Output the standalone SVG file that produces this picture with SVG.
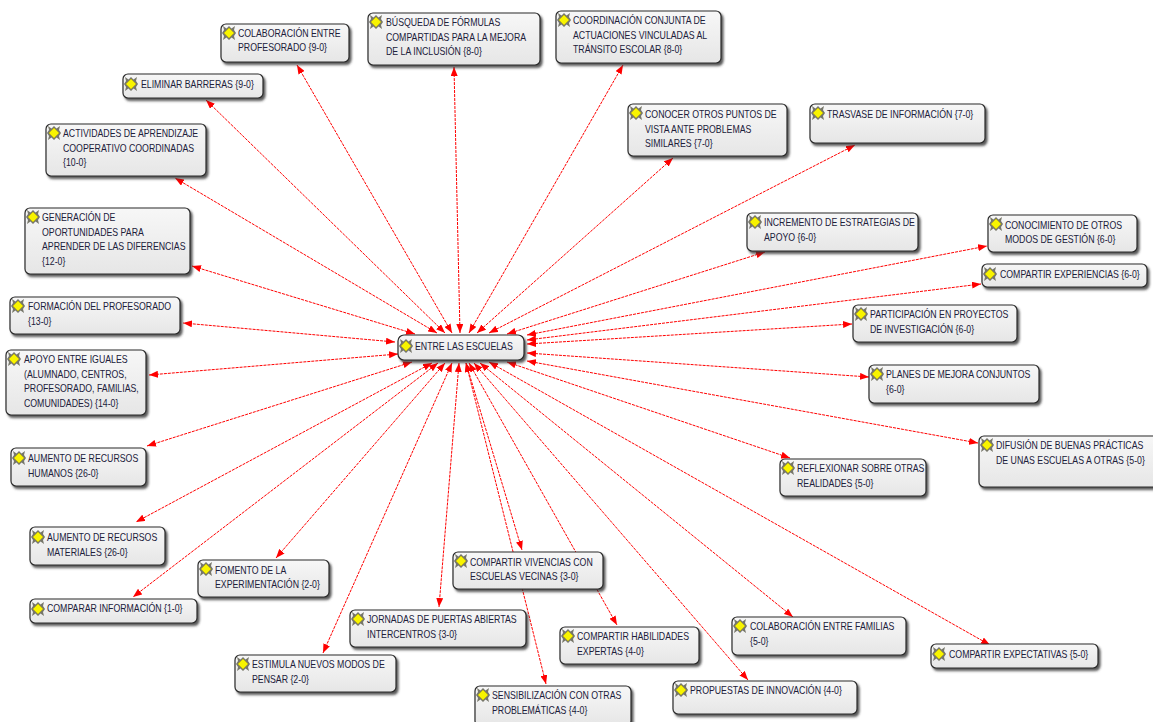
<svg xmlns="http://www.w3.org/2000/svg" width="1153" height="722" viewBox="0 0 1153 722">
<style>
.bg{fill:#fff}
.box{fill:url(#bf);stroke:#2a2a2a;stroke-width:1.2;filter:url(#sh)}
.c{stroke:#f00;stroke-width:1;stroke-dasharray:3 1;fill:none;marker-start:url(#ah);marker-end:url(#ah)}
text{font-family:"Liberation Sans",Arial,sans-serif;font-size:10.5px;fill:#20203a;transform-box:fill-box;transform-origin:0 50%;transform:scaleX(.835)}
</style>
<defs>
<linearGradient id="bf" x1="0" y1="0" x2="0" y2="1"><stop offset="0" stop-color="#f7f7f7"/><stop offset="1" stop-color="#e6e6e6"/></linearGradient>
<filter id="sh" x="-10%" y="-20%" width="125%" height="150%"><feDropShadow dx="2" dy="2.5" stdDeviation="1" flood-color="#333" flood-opacity=".8"/></filter>
<marker id="ah" viewBox="0 0 9 7" refX="9" refY="3.5" markerUnits="userSpaceOnUse" markerWidth="9" markerHeight="7" orient="auto-start-reverse"><path d="M0 0L9 3.5L0 7z" fill="#f00"/></marker>
<symbol id="ic" viewBox="0 0 14 14" overflow="visible">
<path d="M1 0L4.5 2.5L7 0L9.5 2.5L13 0L12 4L14 7L12 10L13 14L9.5 11.5L7 14L4.5 11.5L1 14L2 10L0 7L2 4z" fill="#77776a"/>
<path d="M7 2L12 7L7 12L2 7z" fill="#f8f400" stroke="#c4b800" stroke-width=".6"/>
</symbol>
</defs>
<rect class="bg" width="1153" height="722"/>
<g id="connectors">
<line class="c" x1="415" y1="334" x2="192" y2="266"/>
<line class="c" x1="437" y1="333" x2="175" y2="178"/>
<line class="c" x1="445" y1="333" x2="206" y2="100"/>
<line class="c" x1="452" y1="333" x2="297" y2="65"/>
<line class="c" x1="460" y1="333" x2="454" y2="67"/>
<line class="c" x1="469" y1="333" x2="623" y2="65"/>
<line class="c" x1="477" y1="333" x2="673" y2="158"/>
<line class="c" x1="489" y1="333" x2="855" y2="145"/>
<line class="c" x1="507" y1="334" x2="765" y2="252"/>
<line class="c" x1="527" y1="335" x2="987" y2="246"/>
<line class="c" x1="527" y1="340" x2="981" y2="284"/>
<line class="c" x1="527" y1="344" x2="852" y2="324"/>
<line class="c" x1="527" y1="353" x2="869" y2="377"/>
<line class="c" x1="527" y1="361" x2="978" y2="443"/>
<line class="c" x1="507" y1="362" x2="790" y2="458"/>
<line class="c" x1="489" y1="362" x2="990" y2="645"/>
<line class="c" x1="480" y1="363" x2="793" y2="617"/>
<line class="c" x1="474" y1="363" x2="748" y2="680"/>
<line class="c" x1="469" y1="363" x2="617" y2="625"/>
<line class="c" x1="466" y1="363" x2="546" y2="684"/>
<line class="c" x1="466" y1="363" x2="522" y2="550"/>
<line class="c" x1="459" y1="363" x2="439" y2="607"/>
<line class="c" x1="452" y1="363" x2="323" y2="653"/>
<line class="c" x1="445" y1="363" x2="276" y2="558"/>
<line class="c" x1="438" y1="363" x2="133" y2="597"/>
<line class="c" x1="432" y1="363" x2="136" y2="522"/>
<line class="c" x1="412" y1="362" x2="147" y2="446"/>
<line class="c" x1="398" y1="354" x2="149" y2="375"/>
<line class="c" x1="395" y1="342" x2="183" y2="323"/>
</g>
<g id="n0"><rect class="box" x="398" y="335" width="126" height="25" rx="6" stroke-width="1.6"/><use href="#ic" x="399" y="339" width="14" height="14"/><text x="415" y="350">ENTRE LAS ESCUELAS</text></g>
<g id="n1"><rect class="box" x="221" y="24" width="128" height="38" rx="5"/><use href="#ic" x="222" y="26" width="14" height="14"/><text x="238" y="37">COLABORACIÓN ENTRE</text><text x="238" y="51">PROFESORADO {9-0}</text></g>
<g id="n2"><rect class="box" x="368" y="13" width="172" height="52" rx="5"/><use href="#ic" x="369" y="15" width="14" height="14"/><text x="386" y="26">BÚSQUEDA DE FÓRMULAS</text><text x="386" y="41">COMPARTIDAS PARA LA MEJORA</text><text x="386" y="55">DE LA INCLUSIÓN {8-0}</text></g>
<g id="n3"><rect class="box" x="556" y="11" width="165" height="52" rx="5"/><use href="#ic" x="557" y="13" width="14" height="14"/><text x="573" y="24">COORDINACIÓN CONJUNTA DE</text><text x="573" y="39">ACTUACIONES VINCULADAS AL</text><text x="573" y="53">TRÁNSITO ESCOLAR {8-0}</text></g>
<g id="n4"><rect class="box" x="123" y="74" width="140" height="24" rx="5"/><use href="#ic" x="124" y="77" width="14" height="14"/><text x="141" y="88">ELIMINAR BARRERAS {9-0}</text></g>
<g id="n5"><rect class="box" x="46" y="124" width="160" height="52" rx="5"/><use href="#ic" x="47" y="126" width="14" height="14"/><text x="63" y="137">ACTIVIDADES DE APRENDIZAJE</text><text x="63" y="152">COOPERATIVO COORDINADAS</text><text x="63" y="166">{10-0}</text></g>
<g id="n6"><rect class="box" x="25" y="208" width="165" height="66" rx="5"/><use href="#ic" x="26" y="210" width="14" height="14"/><text x="42" y="221">GENERACIÓN DE</text><text x="42" y="236">OPORTUNIDADES PARA</text><text x="42" y="250">APRENDER DE LAS DIFERENCIAS</text><text x="42" y="265">{12-0}</text></g>
<g id="n7"><rect class="box" x="10" y="297" width="170" height="37" rx="5"/><use href="#ic" x="11" y="299" width="14" height="14"/><text x="28" y="310">FORMACIÓN DEL PROFESORADO</text><text x="28" y="325">{13-0}</text></g>
<g id="n8"><rect class="box" x="6" y="350" width="140" height="65" rx="5"/><use href="#ic" x="7" y="352" width="14" height="14"/><text x="24" y="363">APOYO ENTRE IGUALES</text><text x="24" y="378">(ALUMNADO, CENTROS,</text><text x="24" y="392">PROFESORADO, FAMILIAS,</text><text x="24" y="407">COMUNIDADES) {14-0}</text></g>
<g id="n9"><rect class="box" x="11" y="448" width="135" height="38" rx="5"/><use href="#ic" x="12" y="451" width="14" height="14"/><text x="28" y="462">AUMENTO DE RECURSOS</text><text x="28" y="477">HUMANOS {26-0}</text></g>
<g id="n10"><rect class="box" x="30" y="527" width="135" height="38" rx="5"/><use href="#ic" x="31" y="530" width="14" height="14"/><text x="47" y="541">AUMENTO DE RECURSOS</text><text x="47" y="556">MATERIALES {26-0}</text></g>
<g id="n11"><rect class="box" x="198" y="560" width="131" height="37" rx="5"/><use href="#ic" x="199" y="562" width="14" height="14"/><text x="215" y="574">FOMENTO DE LA</text><text x="215" y="588">EXPERIMENTACIÓN {2-0}</text></g>
<g id="n12"><rect class="box" x="30" y="599" width="167" height="24" rx="5"/><use href="#ic" x="31" y="602" width="14" height="14"/><text x="47" y="612">COMPARAR INFORMACIÓN {1-0}</text></g>
<g id="n13"><rect class="box" x="235" y="655" width="161" height="37" rx="5"/><use href="#ic" x="236" y="657" width="14" height="14"/><text x="252" y="668">ESTIMULA NUEVOS MODOS DE</text><text x="252" y="683">PENSAR {2-0}</text></g>
<g id="n14"><rect class="box" x="350" y="610" width="176" height="37" rx="5"/><use href="#ic" x="351" y="612" width="14" height="14"/><text x="367" y="623">JORNADAS DE PUERTAS ABIERTAS</text><text x="367" y="638">INTERCENTROS {3-0}</text></g>
<g id="n15"><rect class="box" x="453" y="552" width="150" height="37" rx="5"/><use href="#ic" x="454" y="554" width="14" height="14"/><text x="470" y="566">COMPARTIR VIVENCIAS CON</text><text x="470" y="580">ESCUELAS VECINAS {3-0}</text></g>
<g id="n16"><rect class="box" x="560" y="627" width="139" height="37" rx="5"/><use href="#ic" x="561" y="629" width="14" height="14"/><text x="577" y="640">COMPARTIR HABILIDADES</text><text x="577" y="655">EXPERTAS {4-0}</text></g>
<g id="n17"><rect class="box" x="475" y="686" width="156" height="40" rx="5"/><use href="#ic" x="476" y="688" width="14" height="14"/><text x="492" y="699">SENSIBILIZACIÓN CON OTRAS</text><text x="492" y="714">PROBLEMÁTICAS {4-0}</text></g>
<g id="n18"><rect class="box" x="673" y="681" width="184" height="33" rx="5"/><use href="#ic" x="674" y="683" width="14" height="14"/><text x="690" y="694">PROPUESTAS DE INNOVACIÓN {4-0}</text></g>
<g id="n19"><rect class="box" x="732" y="617" width="174" height="38" rx="5"/><use href="#ic" x="733" y="619" width="14" height="14"/><text x="750" y="630">COLABORACIÓN ENTRE FAMILIAS</text><text x="750" y="645">{5-0}</text></g>
<g id="n20"><rect class="box" x="931" y="644" width="167" height="24" rx="5"/><use href="#ic" x="932" y="647" width="14" height="14"/><text x="949" y="658">COMPARTIR EXPECTATIVAS {5-0}</text></g>
<g id="n21"><rect class="box" x="780" y="459" width="146" height="37" rx="5"/><use href="#ic" x="781" y="461" width="14" height="14"/><text x="797" y="472">REFLEXIONAR SOBRE OTRAS</text><text x="797" y="487">REALIDADES {5-0}</text></g>
<g id="n22"><rect class="box" x="979" y="436" width="180" height="51" rx="5"/><use href="#ic" x="980" y="438" width="14" height="14"/><text x="996" y="449">DIFUSIÓN DE BUENAS PRÁCTICAS</text><text x="996" y="464">DE UNAS ESCUELAS A OTRAS {5-0}</text></g>
<g id="n23"><rect class="box" x="869" y="365" width="170" height="38" rx="5"/><use href="#ic" x="870" y="367" width="14" height="14"/><text x="886" y="378">PLANES DE MEJORA CONJUNTOS</text><text x="886" y="393">{6-0}</text></g>
<g id="n24"><rect class="box" x="853" y="305" width="164" height="37" rx="5"/><use href="#ic" x="854" y="307" width="14" height="14"/><text x="870" y="318">PARTICIPACIÓN EN PROYECTOS</text><text x="870" y="333">DE INVESTIGACIÓN {6-0}</text></g>
<g id="n25"><rect class="box" x="982" y="264" width="165" height="23" rx="5"/><use href="#ic" x="983" y="267" width="14" height="14"/><text x="1000" y="278">COMPARTIR EXPERIENCIAS {6-0}</text></g>
<g id="n26"><rect class="box" x="988" y="215" width="149" height="37" rx="5"/><use href="#ic" x="989" y="217" width="14" height="14"/><text x="1005" y="229">CONOCIMIENTO DE OTROS</text><text x="1005" y="243">MODOS DE GESTIÓN {6-0}</text></g>
<g id="n27"><rect class="box" x="747" y="213" width="171" height="38" rx="5"/><use href="#ic" x="748" y="215" width="14" height="14"/><text x="764" y="226">INCREMENTO DE ESTRATEGIAS DE</text><text x="764" y="241">APOYO {6-0}</text></g>
<g id="n28"><rect class="box" x="810" y="104" width="175" height="39" rx="5"/><use href="#ic" x="811" y="106" width="14" height="14"/><text x="827" y="118">TRASVASE DE INFORMACIÓN {7-0}</text></g>
<g id="n29"><rect class="box" x="628" y="104" width="159" height="52" rx="5"/><use href="#ic" x="629" y="106" width="14" height="14"/><text x="645" y="118">CONOCER OTROS PUNTOS DE</text><text x="645" y="133">VISTA ANTE PROBLEMAS</text><text x="645" y="147">SIMILARES {7-0}</text></g>
</svg>
